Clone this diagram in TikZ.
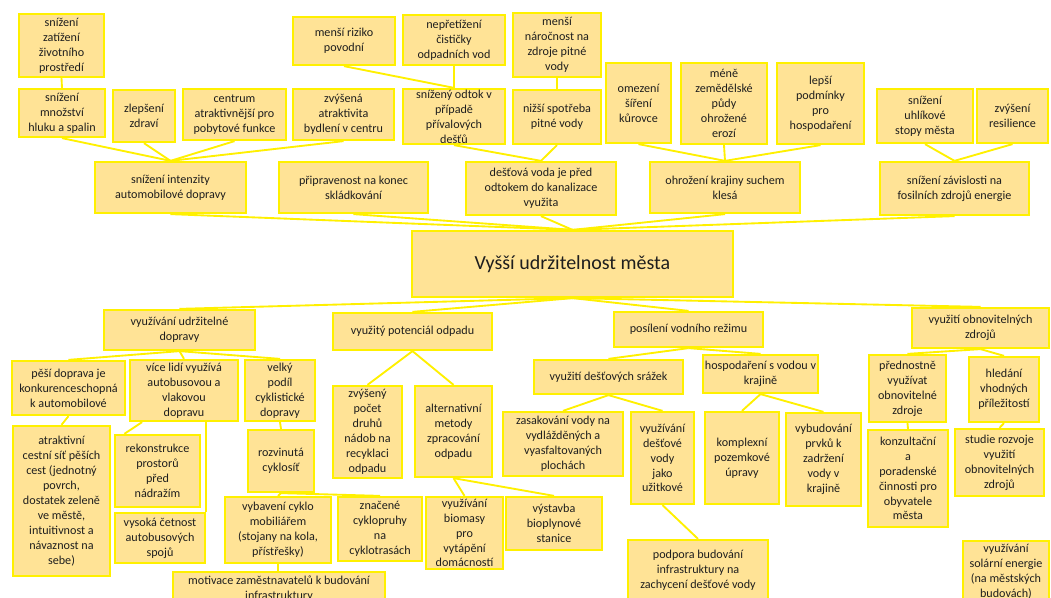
\documentclass[tikz,border=0pt]{standalone}
\usepackage{fontspec}
\setmainfont{Carlito}
\usetikzlibrary{calc,backgrounds}
\definecolor{boxfill}{RGB}{255,227,150}
\definecolor{boxline}{RGB}{255,240,0}
\definecolor{txt}{RGB}{30,30,30}
\tikzset{
  bx/.style={draw=boxline, line width=1.7pt, fill=boxfill, align=center, inner sep=0pt,
             font=\fontsize{9.1}{11.2}\selectfont, text=txt},
  conn/.style={draw=boxline, line width=1.4pt},
}
\newcommand\mybox[6]{\node[bx, minimum width={(#4-#2)*0.75pt}, minimum height={(#5-#3)*0.75pt}] (#1) at ({(#2+#4)/2},{(#3+#5)/2}) {#6};}
\begin{document}
\begin{tikzpicture}[x=0.75pt,y=-0.75pt]
\useasboundingbox (0,0) rectangle (1051,598);
\begin{scope}[on background layer]
\fill[white] (0,0) rectangle (1051,598);
\end{scope}
\clip (0,0) rectangle (1051,598);
% top row
\mybox{t1}{19}{14}{104}{77}{snížení\\zatížení\\životního\\prostředí}
\mybox{t2}{19}{89}{105}{137}{snížení\\množství\\hluku a spalin}
\mybox{t3}{113}{90}{175}{142}{zlepšení\\zdraví}
\mybox{t4}{183}{89}{286}{140}{centrum\\atraktivnější pro\\pobytové funkce}
\mybox{t5}{293}{89}{394}{140}{zvýšená\\atraktivita\\bydlení v centru}
\mybox{t6}{293}{17}{395}{65}{menší riziko\\povodní}
\mybox{t7}{403}{15}{505}{65}{nepřetížení\\čističky\\odpadních vod}
\mybox{t8}{513}{13}{601}{77}{menší\\náročnost na\\zdroje pitné\\vody}
\mybox{t9}{403}{89}{505}{144}{snížený odtok v\\případě\\přívalových\\dešťů}
\mybox{t10}{513}{90}{601}{144}{nižší spotřeba\\pitné vody}
\mybox{t11}{606}{63}{671}{143}{omezení\\šíření\\kůrovce}
\mybox{t12}{681}{63}{767}{144}{méně\\zemědělské\\půdy\\ohrožené\\erozí}
\mybox{t13}{777}{63}{864}{144}{lepší\\podmínky\\pro\\hospodaření}
\mybox{t14}{877}{89}{973}{143}{snížení\\uhlíkové\\stopy města}
\mybox{t15}{977}{89}{1048}{143}{zvýšení\\resilience}
% level 1 top
\mybox{a1}{95}{162}{246}{213}{snížení intenzity\\automobilové dopravy}
\mybox{a2}{279}{162}{428}{213}{připravenost na konec\\skládkování}
\mybox{a3}{466}{162}{616}{215}{dešťová voda je před\\odtokem do kanalizace\\využita}
\mybox{a4}{650}{162}{800}{213}{ohrožení krajiny suchem\\klesá}
\mybox{a5}{880}{162}{1029}{215}{snížení závislosti na\\fosilních zdrojů energie}
% centre
\node[bx, font=\fontsize{15}{18}\selectfont, minimum width=240.75pt, minimum height=49.5pt] (c) at (572.5,264) {Vyšší udržitelnost města};
% level 1 bottom
\mybox{b1}{104}{310}{255}{350}{využívání udržitelné\\dopravy}
\mybox{b2}{333}{313}{492}{350}{využitý potenciál odpadu}
\mybox{b3}{614}{312}{763}{347}{posílení vodního režimu}
\mybox{b4}{912}{308}{1049}{348}{využití obnovitelných\\zdrojů}
% transport branch
\mybox{b11}{12}{361}{125}{415}{pěší doprava je\\konkurenceschopná\\k automobilové}
\mybox{b12}{130}{360}{238}{421}{více lidí využívá\\autobusovou a\\vlakovou\\dopravu}
\mybox{b13}{245}{360}{315}{421}{velký\\podíl\\cyklistické\\dopravy}
\mybox{b111}{13}{426}{110}{576}{\fontsize{9.1}{12.2}\selectfont atraktivní\\cestní síť pěších\\cest (jednotný\\povrch,\\dostatek zeleně\\ve městě,\\intuitivnost a\\návaznost na\\sebe)}
\mybox{b121}{115}{435}{200}{507}{rekonstrukce\\prostorů\\před\\nádražím}
\mybox{b122}{115}{513}{205}{563}{vysoká četnost\\autobusových\\spojů}
\mybox{b131}{248}{430}{314}{492}{rozvinutá\\cyklosíť}
\mybox{b1311}{225}{497}{331}{563}{vybavení cyklo\\mobiliářem\\(stojany na kola,\\přístřešky)}
\mybox{b1312}{338}{497}{422}{561}{značené\\cyklopruhy\\na\\cyklotrasách}
\mybox{b13111}{173}{572}{385}{606}{motivace zaměstnavatelů k budování\\infrastruktury}
% waste branch
\mybox{b21}{333}{386}{402}{478}{zvýšený\\počet\\druhů\\nádob na\\recyklaci\\odpadu}
\mybox{b22}{415}{386}{492}{477}{alternativní\\metody\\zpracování\\odpadu}
\mybox{b221}{426}{497}{503}{569}{využívání\\biomasy\\pro\\vytápění\\domácností}
\mybox{b222}{506}{497}{602}{550}{výstavba\\bioplynové\\stanice}
% water branch
\mybox{b31}{534}{360}{683}{394}{využití dešťových srážek}
\mybox{b32}{703}{355}{818}{393}{hospodaření s vodou v\\krajině}
\mybox{b311}{503}{412}{623}{476}{zasakování vody na\\vydlážděných a\\vyasfaltovaných\\plochách}
\mybox{b312}{631}{412}{694}{504}{využívání\\dešťové\\vody\\jako\\užitkové}
\mybox{b3121}{628}{540}{768}{600}{podpora budování\\infrastruktury na\\zachycení dešťové vody}
\mybox{b321}{705}{412}{779}{504}{komplexní\\pozemkové\\úpravy}
\mybox{b322}{786}{413}{861}{506}{vybudování\\prvků k\\zadržení\\vody v\\krajině}
% renewables branch
\mybox{b41}{869}{355}{946}{422}{přednostně\\využívat\\obnovitelné\\zdroje}
\mybox{b42}{969}{357}{1039}{422}{hledání\\vhodných\\příležitostí}
\mybox{b411}{868}{430}{948}{527}{konzultační\\a\\poradenské\\činnosti pro\\obyvatele\\města}
\mybox{b421}{955}{429}{1044}{496}{studie rozvoje\\využití\\obnovitelných\\zdrojů}
\mybox{sol}{963}{541}{1049}{603}{využívání\\solární energie\\(na městských\\budovách)}
% connectors
\begin{scope}[on background layer]
\draw[conn] (t1.south) -- (t2.north);
\foreach \n in {t2,t3,t4,t5} \draw[conn] (\n.south) -- (a1.north);
\draw[conn] (t6.south) -- (t9.north);
\draw[conn] (t7.south) -- (t9.north);
\draw[conn] (t8.south) -- (t10.north);
\draw[conn] (t9.south) -- (a3.north);
\draw[conn] (t10.south) -- (a3.north);
\foreach \n in {t11,t12,t13} \draw[conn] (\n.south) -- (a4.north);
\foreach \n in {t14,t15} \draw[conn] (\n.south) -- (a5.north);
\foreach \n in {a1,a2,a3,a4,a5} \draw[conn] (\n.south) -- (c.north);
\foreach \n in {b1,b2,b3,b4} \draw[conn] (c.south) -- (\n.north);
\foreach \n in {b11,b12,b13} \draw[conn] (b1.south) -- (\n.north);
\draw[conn] (b11.south) -- (b111.north);
\draw[conn] ($(b12.south west)!0.12!(b12.south east)$) -- ($(b121.north west)!0.12!(b121.north east)$);
\draw[conn] (b122.north east |- b12.south) -- (b122.north east);
\draw[conn] (b13.south) -- (b131.north);
\draw[conn] (b131.south) -- (b1311.north);
\draw[conn] (b131.south) -- (b1312.north);
\draw[conn] (b1311.south) -- (b13111.north -| b1311.south);
\foreach \n in {b21,b22} \draw[conn] (b2.south) -- (\n.north);
\foreach \n in {b221,b222} \draw[conn] (b22.south) -- (\n.north);
\foreach \n in {b31,b32} \draw[conn] (b3.south) -- (\n.north);
\foreach \n in {b311,b312} \draw[conn] (b31.south) -- (\n.north);
\draw[conn] (b312.south) -- (b3121.north);
\foreach \n in {b321,b322} \draw[conn] (b32.south) -- (\n.north);
\foreach \n in {b41,b42} \draw[conn] (b4.south) -- (\n.north);
\draw[conn] (b41.south) -- (b411.north);
\draw[conn] (b42.south) -- (b421.north);
\end{scope}
\end{tikzpicture}
\end{document}
